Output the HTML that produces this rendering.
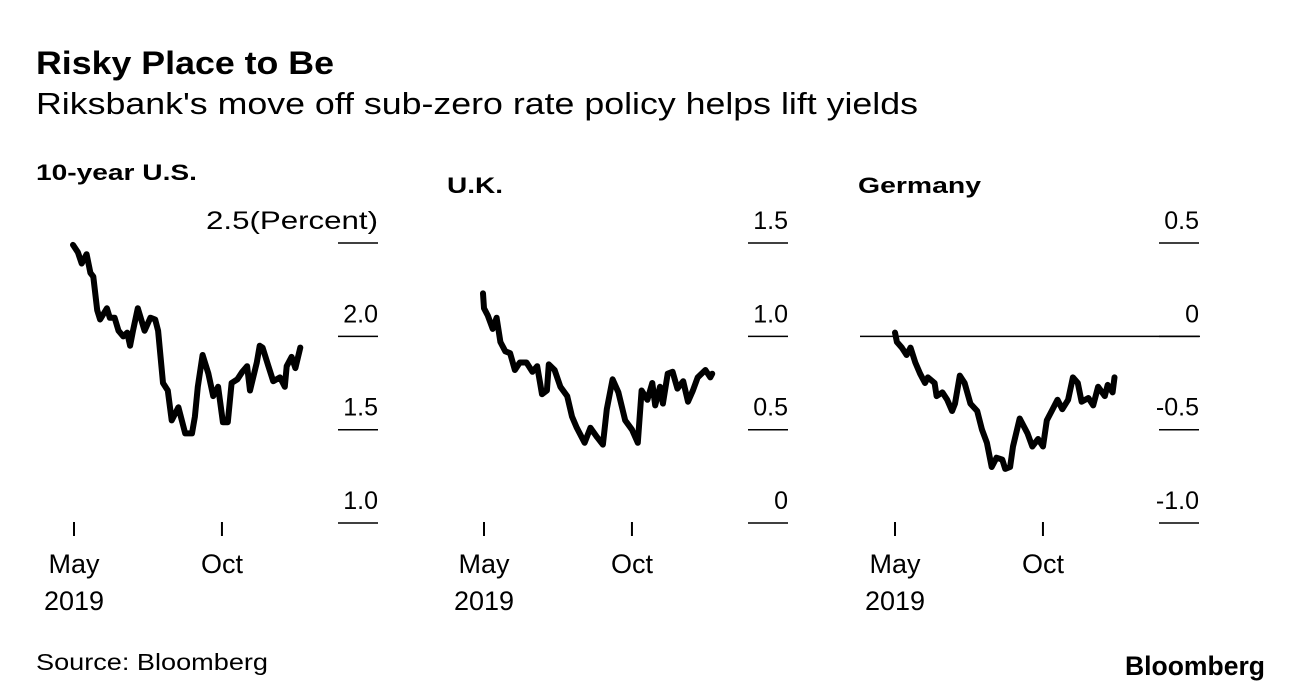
<!DOCTYPE html>
<html><head><meta charset="utf-8"><style>
html,body{margin:0;padding:0;background:#fff;}
svg{display:block;font-family:"Liberation Sans",Arial,sans-serif;}
</style></head><body>
<svg id="chart" width="1292" height="692" viewBox="0 0 1292 692">
<text x="36" y="74" font-size="32" font-weight="bold" fill="#000" textLength="298" lengthAdjust="spacingAndGlyphs">Risky Place to Be</text>
<text x="36" y="114" font-size="31" fill="#000" textLength="882" lengthAdjust="spacingAndGlyphs">Riksbank's move off sub-zero rate policy helps lift yields</text>
<text x="36" y="180" font-size="22" font-weight="bold" fill="#000" textLength="161" lengthAdjust="spacingAndGlyphs">10-year U.S.</text>
<text x="447" y="193" font-size="22" font-weight="bold" fill="#000" textLength="56" lengthAdjust="spacingAndGlyphs">U.K.</text>
<text x="858" y="193" font-size="22" font-weight="bold" fill="#000" textLength="123" lengthAdjust="spacingAndGlyphs">Germany</text>
<text x="36" y="670" font-size="23" fill="#000" textLength="232" lengthAdjust="spacingAndGlyphs">Source: Bloomberg</text>
<text x="1125" y="675" font-size="27" font-weight="bold" fill="#000" textLength="140" lengthAdjust="spacingAndGlyphs">Bloomberg</text>
<g id="panels"></g>
</svg>
<script>
const usDays=[-1,4,8,13,17,20,24,27,34,37,42,46,51,55,58,61,66,73,79,84,87,92,97,101,108,115,122,125,128,133,139,144,149,154,159,163,169,174,179,182,189,192,195,201,206,213,218,220,225,229,234];
const usVals=[2.49,2.45,2.39,2.44,2.34,2.32,2.14,2.09,2.15,2.10,2.10,2.03,2.00,2.02,1.95,2.03,2.15,2.03,2.10,2.09,2.03,1.75,1.71,1.55,1.62,1.48,1.48,1.57,1.73,1.90,1.80,1.68,1.73,1.54,1.54,1.75,1.77,1.81,1.84,1.71,1.86,1.95,1.94,1.84,1.76,1.78,1.73,1.84,1.89,1.83,1.94];
const ukDays=[-1,0,4,9,13,17,22,27,32,37,44,50,55,60,65,67,73,79,86,91,96,104,110,117,123,127,133,139,146,153,159,163,169,174,177,182,185,190,195,200,206,211,216,221,229,234,236];
const ukVals=[1.23,1.15,1.11,1.04,1.10,0.97,0.92,0.91,0.82,0.86,0.86,0.81,0.84,0.69,0.71,0.85,0.82,0.73,0.68,0.57,0.51,0.43,0.51,0.46,0.42,0.61,0.77,0.70,0.55,0.50,0.43,0.71,0.66,0.75,0.63,0.73,0.64,0.80,0.81,0.72,0.76,0.65,0.71,0.78,0.82,0.78,0.80];
const deDays=[0,2,7,12,16,21,26,31,34,41,43,49,54,59,62,67,72,78,85,90,95,100,105,111,114,119,122,129,137,142,148,153,157,162,168,173,179,184,189,193,200,205,210,217,220,225,227];
const deVals=[0.02,-0.03,-0.06,-0.10,-0.06,-0.14,-0.20,-0.25,-0.22,-0.25,-0.32,-0.30,-0.34,-0.40,-0.36,-0.21,-0.25,-0.36,-0.40,-0.50,-0.57,-0.70,-0.65,-0.66,-0.71,-0.70,-0.59,-0.44,-0.52,-0.59,-0.55,-0.59,-0.45,-0.40,-0.34,-0.39,-0.34,-0.22,-0.25,-0.35,-0.33,-0.37,-0.27,-0.32,-0.26,-0.30,-0.22];
const usTicks=["2.5","2.0","1.5","1.0"], usTickVals=[2.5,2.0,1.5,1.0];
const ukTicks=["1.5","1.0","0.5","0"], ukTickVals=[1.5,1.0,0.5,0];
const deTicks=["0.5","0","-0.5","-1.0"], deTickVals=[0.5,0,-0.5,-1.0];
const xTickDays=[0,153];
const xTickLabels=["May","Oct"];

const NS="http://www.w3.org/2000/svg";
const root=document.getElementById('panels');
function mk(tag,attrs,parent){const e=document.createElementNS(NS,tag);for(const k in attrs)e.setAttribute(k,attrs[k]);parent.appendChild(e);return e;}

function panel(off,name,days,vals,ticks,tickVals,top,zeroLine){
  const g=mk('g',{},root);
  
  
  const xs=d=>74+off+d*0.967;
  const ys=v=>243+(top-v)*186.7;
  ticks.forEach((t,i)=>{
    const y=ys(tickVals[i]);
    const l=mk('line',{x1:338+off,x2:378+off,y1:y,y2:y,stroke:'#000','stroke-width':1.5},g);
    
    
    const tx=mk('text',{x:378+off,y:y-14,'font-size':25,'text-anchor':'end',fill:'#000'},g);
    
    
    if(name==='us'&&i===0){
      tx.textContent=t+'(Percent)';
      tx.setAttribute('text-anchor','start');
      tx.setAttribute('x',206);
      tx.setAttribute('textLength',172);
      tx.setAttribute('lengthAdjust','spacingAndGlyphs');
    } else tx.textContent=t;
  });
  if(zeroLine){
    const z=mk('line',{x1:860,x2:1200,y1:ys(0),y2:ys(0),stroke:'#000','stroke-width':1.5},g);
    
    
  }
  xTickDays.forEach((d,i)=>{
    const x=xs(d);
    const l=mk('line',{x1:x,x2:x,y1:522,y2:536,stroke:'#000','stroke-width':2},g);
    
    
    const t=mk('text',{x:x,y:573,'font-size':27,'text-anchor':'middle',fill:'#000'},g);
    t.textContent=xTickLabels[i];
    
    
  });
  const yr=mk('text',{x:xs(0),y:610,'font-size':27,'text-anchor':'middle',fill:'#000'},g);
  yr.textContent='2019';
  
  
  const pts=days.map((d,i)=>xs(d).toFixed(1)+','+ys(vals[i]).toFixed(1)).join(' ');
  const p=mk('polyline',{points:pts,fill:'none',stroke:'#000','stroke-width':6,'stroke-linejoin':'round','stroke-linecap':'round'},g);
  
  
}
panel(0,'us',usDays,usVals,usTicks,usTickVals,2.5,false);
panel(410,'uk',ukDays,ukVals,ukTicks,ukTickVals,1.5,false);
panel(821,'germany',deDays,deVals,deTicks,deTickVals,0.5,true);
</script>
</body></html>
